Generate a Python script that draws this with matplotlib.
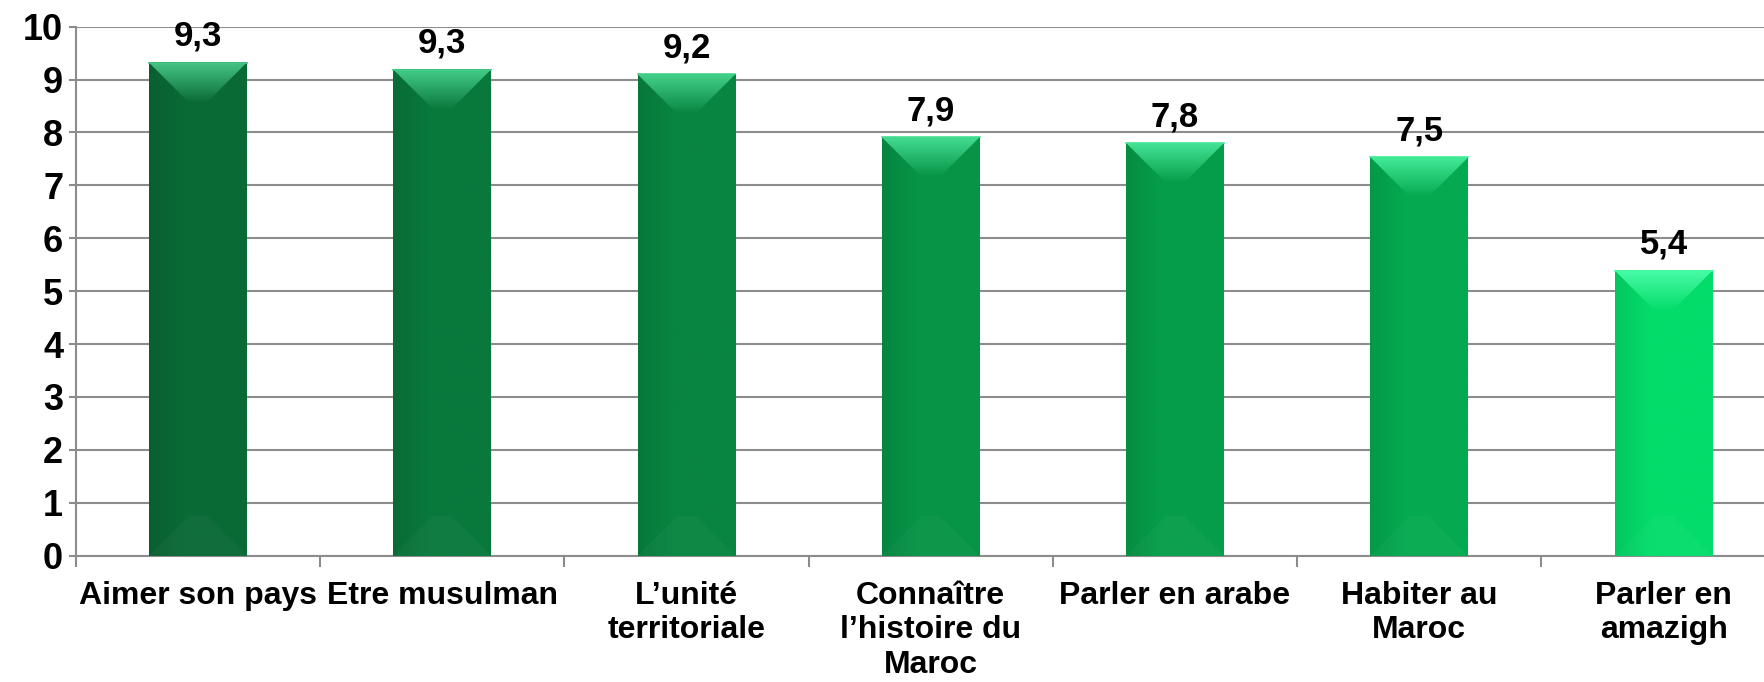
import numpy as np
import matplotlib
matplotlib.use('Agg')
import matplotlib.pyplot as plt
import matplotlib.colors as mcolors
from matplotlib.patches import Polygon

plt.rcParams['font.family'] = ['Liberation Sans', 'DejaVu Sans']

# data
categories = ['Aimer son pays', 'Etre musulman', 'L\u2019unité\nterritoriale',
              'Connaître\nl\u2019histoire du\nMaroc', 'Parler en arabe',
              'Habiter au\nMaroc', 'Parler en\namazigh']
values = [9.32, 9.19, 9.10, 7.91, 7.80, 7.53, 5.39]
value_labels = ['9,3', '9,3', '9,2', '7,9', '7,8', '7,5', '5,4']
bar_colors = ['#0a6a36', '#09783b', '#088540', '#079447', '#069d4a', '#05aa50', '#04dc6a']
top_colors = ['#45c485', '#44cc88', '#45d28c', '#44de92', '#45e496', '#44ec9a', '#48fba6']

fig = plt.figure(figsize=(17.65, 6.82), dpi=100)
# axes run a bit past the right edge, like the original crop
ax = fig.add_axes([75.7 / 1765, 0.1852, 7 * 244.3 / 1765, 0.9609 - 0.1852])

x = np.arange(len(categories))
bar_w = 0.4
bars = ax.bar(x, values, width=bar_w, color=bar_colors, zorder=3)

ax.set_xlim(-0.5, 6.5)
ax.set_ylim(0, 10)

# pixel sizes for the bevel
bb = ax.get_window_extent()
px_x = bb.width / 7.0
px_y = bb.height / 10.0
depth_px = 0.41 * bar_w * px_x
dx = depth_px / px_x
dy = depth_px / px_y

for xi, v, c, tc in zip(x, values, bar_colors, top_colors):
    x0, x1 = xi - bar_w / 2, xi + bar_w / 2
    base = np.array(mcolors.to_rgb(c))
    dark = base * 0.9

    # horizontal shading across the body, a little darker at the left edge
    t = np.linspace(0, 1, 60)
    k = np.clip(t / 0.35, 0, 1)
    row = dark[None, :] * (1 - k[:, None]) + base[None, :] * k[:, None]
    ax.imshow(row[None, :, :], extent=[x0, x1, 0, v], aspect='auto',
              interpolation='bilinear', zorder=3.1)

    # top bevel, lighter toward the top
    top = Polygon([(x0, v), (x1, v), (x1 - dx, v - dy), (x0 + dx, v - dy)],
                  closed=True, facecolor='none', edgecolor='none', zorder=3.2)
    ax.add_patch(top)
    light = np.array(mcolors.to_rgb(tc))
    s = np.linspace(0, 1, 40)[:, None]
    col = light[None, :] * (1 - s) + base[None, :] * s
    im = ax.imshow(col[:, None, :], extent=[x0, x1, v - dy, v], aspect='auto',
                   interpolation='bilinear', zorder=3.2)
    im.set_clip_path(top)

    # faint bottom bevel
    bot = Polygon([(x0, 0), (x1, 0), (x1 - dx, dy), (x0 + dx, dy)], closed=True,
                  facecolor='white', alpha=0.03, edgecolor='none', zorder=3.3)
    ax.add_patch(bot)

    # thin light edge on the top
    ax.plot([x0, x1], [v, v], color=tc, lw=1.2, zorder=3.4)

ax.set_xlim(-0.5, 6.5)
ax.set_ylim(0, 10)

for xi, v, lbl in zip(x, values, value_labels):
    ax.annotate(lbl, (xi, v), xytext=(0, 7), textcoords='offset points',
                ha='center', va='bottom', fontsize=25, fontweight='bold')

grey = '#8c8c8c'
ax.set_yticks(range(0, 11))
ax.yaxis.grid(True, color=grey, lw=1.5, zorder=0)
ax.set_axisbelow(True)

ax.set_xticks(x)
ax.set_xticklabels(categories, fontsize=23, fontweight='bold', linespacing=1.2)
ax.set_xticks(np.arange(-0.5, 7.0, 1.0), minor=True)
ax.tick_params(axis='x', which='major', length=0, pad=18)
ax.tick_params(axis='x', which='minor', length=8, width=1.5, color=grey)
ax.tick_params(axis='y', length=5, width=1.5, color=grey, pad=4, labelsize=26)
for lab in ax.get_yticklabels():
    lab.set_fontweight('bold')

for side in ['top', 'right']:
    ax.spines[side].set_visible(False)
for side in ['left', 'bottom']:
    ax.spines[side].set_color(grey)
    ax.spines[side].set_linewidth(1.5)

fig.savefig('out.png', dpi=100)
